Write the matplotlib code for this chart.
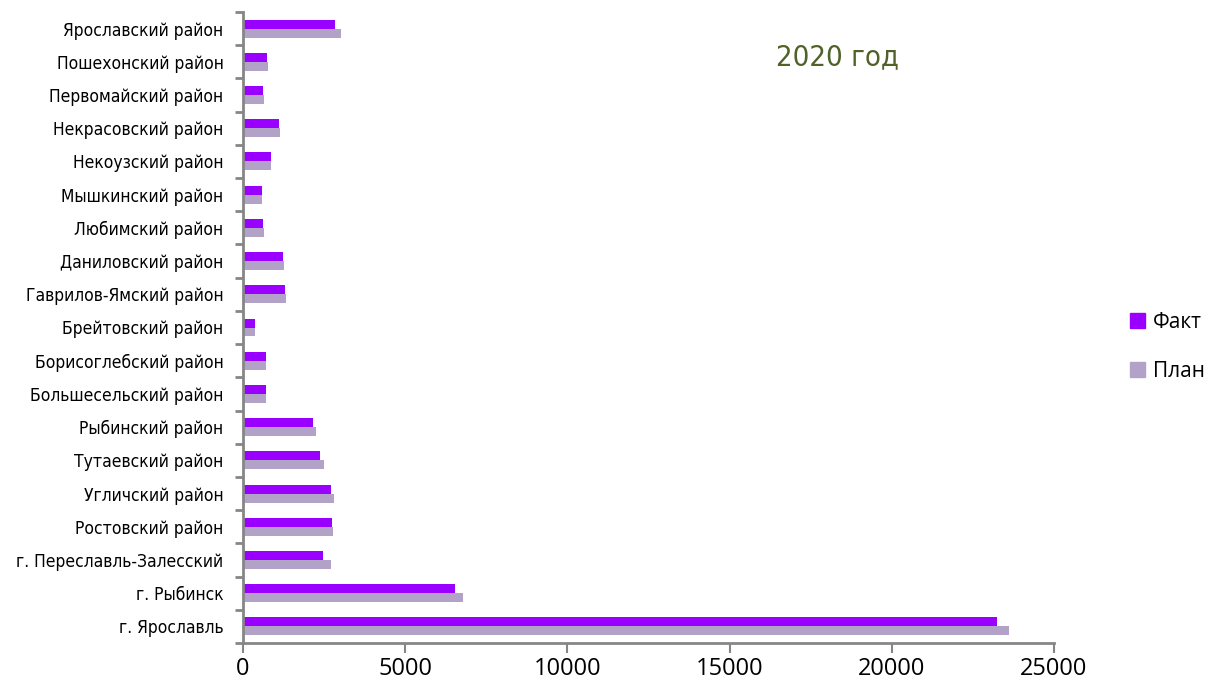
import matplotlib.pyplot as plt
import numpy as np
from matplotlib.patches import Patch

# districts, bottom to top as in the chart
districts = [
    'г. Ярославль', 'г. Рыбинск', 'г. Переславль-Залесский', 'Ростовский район',
    'Угличский район', 'Тутаевский район', 'Рыбинский район', 'Большесельский район',
    'Борисоглебский район', 'Брейтовский район', 'Гаврилов-Ямский район',
    'Даниловский район', 'Любимский район', 'Мышкинский район', 'Некоузский район',
    'Некрасовский район', 'Первомайский район', 'Пошехонский район', 'Ярославский район',
]
fact = [23250, 6545, 2480, 2730, 2720, 2380, 2150, 700, 700, 380, 1285,
        1245, 620, 577, 855, 1110, 620, 730, 2840]
plan = [23600, 6780, 2720, 2770, 2810, 2500, 2255, 720, 700, 370, 1316,
        1275, 650, 600, 875, 1150, 640, 780, 3025]
x_ticks = [0, 5000, 10000, 15000, 20000, 25000]

FACT_COLOR = '#9900FF'
PLAN_COLOR = '#B3A2C7'
AXIS_COLOR = '#868686'
NARROW = dict(family=['DejaVu Sans'], stretch='condensed')

fig = plt.figure(figsize=(12.1, 6.87), dpi=100)
ax = fig.add_axes([243 / 1210, 1 - 643 / 687, (1054 - 243) / 1210, (643 - 12) / 687])

y = np.arange(len(districts))
h = 0.27
ax.barh(y + h / 2, fact, height=h, color=FACT_COLOR, label='Факт')
ax.barh(y - h / 2, plan, height=h, color=PLAN_COLOR, label='План')

ax.set_xlim(0, 25000)
ax.set_ylim(-0.5, len(districts) - 0.5)
ax.set_xticks(x_ticks)
ax.set_xticklabels([str(v) for v in x_ticks], fontsize=17, family=['Open Sans', 'DejaVu Sans'])
ax.set_yticks(y)
ax.set_yticklabels(districts, fontsize=12.5, **NARROW)
ax.set_yticks(np.arange(-0.5, len(districts)), minor=True)
ax.tick_params(axis='y', which='major', length=0, pad=14)
ax.tick_params(axis='y', which='minor', length=6, width=2, color=AXIS_COLOR)
ax.tick_params(axis='x', length=7, width=1.5, color=AXIS_COLOR, pad=3)

for side in ['top', 'right']:
    ax.spines[side].set_visible(False)
for side in ['left', 'bottom']:
    ax.spines[side].set_color(AXIS_COLOR)
    ax.spines[side].set_linewidth(2)

fig.text(838 / 1210, 1 - 57 / 687, '2020 год', ha='center', va='center',
         fontsize=21, color='#4F6228', **NARROW)

handles = [Patch(color=FACT_COLOR, label='Факт'), Patch(color=PLAN_COLOR, label='План')]
fig.legend(handles=handles, loc='center left', bbox_to_anchor=(1122 / 1210, 1 - 347 / 687),
           frameon=False, handlelength=0.72, handleheight=0.72, handletextpad=0.35,
           labelspacing=1.35, borderaxespad=0,
           prop={'size': 15, 'family': ['Open Sans', 'DejaVu Sans']})

fig.savefig('out.png', dpi=100)
